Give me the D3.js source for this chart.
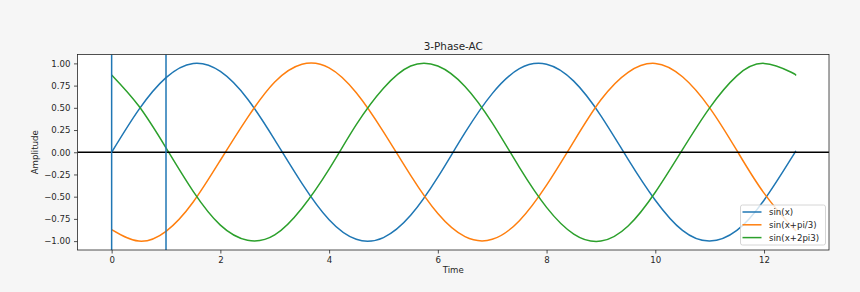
<!DOCTYPE html>
<html>
<head>
<meta charset="utf-8">
<script src="https://cdn.jsdelivr.net/npm/d3@7"></script>
<style>
    body { margin: 0; background: #f6f6f6; }
    #chart { width: 860px; height: 292px; }
    text { font-family: "DejaVu Sans", sans-serif; fill: #262626; }
</style>
</head>
<body>
<div id="chart"></div>
<script>
// Values
var timePoints = [0, 0.5, 1, 1.5, 2, 2.5, 3, 3.5, 4, 4.5, 5, 5.5, 6, 6.5, 7, 7.5, 8, 8.5, 9, 9.5, 10, 10.5, 11, 11.5, 12, 12.5, 12.57];
var sinValues = [0.00, 0.48, 0.84, 1.00, 0.91, 0.60, 0.14, -0.35, -0.76, -0.98, -0.96, -0.71, -0.28, 0.22, 0.66, 0.94, 0.99, 0.80, 0.41, -0.08, -0.54, -0.88, -1.00, -0.88, -0.54, -0.07, 0.00];
var sinPi3Values = [-0.87, -1.00, -0.89, -0.56, -0.09, 0.39, 0.79, 0.99, 0.95, 0.67, 0.23, -0.26, -0.69, -0.95, -0.98, -0.77, -0.37, 0.12, 0.59, 0.90, 1.00, 0.85, 0.50, 0.02, -0.46, -0.83, -0.87];
var sin2Pi3Values = [0.87, 0.52, 0.05, -0.44, -0.82, -0.99, -0.93, -0.63, -0.19, 0.31, 0.72, 0.97, 0.97, 0.74, 0.33, -0.17, -0.62, -0.92, -1.00, -0.83, -0.45, 0.03, 0.50, 0.86, 1.00, 0.90, 0.87];
var seriesNames = ["sin(x)", "sin(x+pi/3)", "sin(x+2pi3)"];
var seriesColors = ["#1f77b4", "#ff7f0e", "#2ca02c"];
var markerTimes = [0, 1];
var xTicks = [0, 2, 4, 6, 8, 10, 12];
var yTicks = [-1, -0.75, -0.5, -0.25, 0, 0.25, 0.5, 0.75, 1];

var allSeries = [sinValues, sinPi3Values, sin2Pi3Values];

var width = 860;
var height = 292;
var margin = { top: 54.5, right: 31, bottom: 42, left: 77.5 };
var innerW = width - margin.left - margin.right;
var innerH = height - margin.top - margin.bottom;

var svg = d3.select("#chart").append("svg")
    .attr("width", width)
    .attr("height", height);

var g = svg.append("g")
    .attr("transform", "translate(" + margin.left + "," + margin.top + ")");

// Scales with matplotlib style 5% padding
var xScale = d3.scaleLinear()
    .domain([-0.628, 13.195])
    .range([0, innerW]);

var yScale = d3.scaleLinear()
    .domain([-1.1, 1.1])
    .range([innerH, 0]);

// Plot background
g.append("rect")
    .attr("width", innerW)
    .attr("height", innerH)
    .attr("fill", "white");

g.append("clipPath")
    .attr("id", "plotClip")
    .append("rect")
    .attr("width", innerW)
    .attr("height", innerH);

var plot = g.append("g").attr("clip-path", "url(#plotClip)");

var line = d3.line()
    .x(function (d) { return xScale(d[0]); })
    .y(function (d) { return yScale(d[1]); })
    .curve(d3.curveNatural);

allSeries.forEach(function (values, i) {
    var pts = timePoints.map(function (t, j) { return [t, values[j]]; });
    plot.append("path")
        .datum(pts)
        .attr("d", line)
        .attr("fill", "none")
        .attr("stroke", seriesColors[i])
        .attr("stroke-width", 1.5);
});

// Zero line
plot.append("line")
    .attr("x1", 0)
    .attr("x2", innerW)
    .attr("y1", yScale(0))
    .attr("y2", yScale(0))
    .attr("stroke", "black")
    .attr("stroke-width", 1.5);

// Vertical marker lines
plot.selectAll(".vline")
    .data(markerTimes)
    .enter().append("line")
    .attr("class", "vline")
    .attr("x1", d => xScale(d))
    .attr("x2", d => xScale(d))
    .attr("y1", 0)
    .attr("y2", innerH)
    .attr("stroke", seriesColors[0])
    .attr("stroke-width", 1.5);

// Axes
var xAxis = d3.axisBottom(xScale)
    .tickValues(xTicks)
    .tickFormat(d3.format("d"))
    .tickSizeInner(3.5)
    .tickSizeOuter(0)
    .tickPadding(3.5);

var yAxis = d3.axisLeft(yScale)
    .tickValues(yTicks)
    .tickFormat(function (d) { return d3.format(".2f")(d).replace("-", "\u2212"); })
    .tickSizeInner(3.5)
    .tickSizeOuter(0)
    .tickPadding(3.5);

var gx = g.append("g")
    .attr("transform", "translate(0," + innerH + ")")
    .call(xAxis);

var gy = g.append("g")
    .call(yAxis);

[gx, gy].forEach(function (ax) {
    ax.select(".domain").remove();
    ax.selectAll("line").attr("stroke", "#262626").attr("stroke-width", 0.8);
    ax.selectAll("text")
        .style("font-family", "DejaVu Sans")
        .style("font-size", "8.6px")
        .attr("fill", "#262626");
});

// Spines
g.append("rect")
    .attr("width", innerW)
    .attr("height", innerH)
    .attr("fill", "none")
    .attr("stroke", "#262626")
    .attr("stroke-width", 0.8);

// Title and axis labels
svg.append("text")
    .attr("x", margin.left + innerW / 2)
    .attr("y", 49.5)
    .attr("text-anchor", "middle")
    .style("font-size", "10.4px")
    .text("3-Phase-AC");

svg.append("text")
    .attr("x", margin.left + innerW / 2)
    .attr("y", 273)
    .attr("text-anchor", "middle")
    .style("font-size", "8.6px")
    .text("Time");

svg.append("text")
    .attr("transform", "translate(37.5," + (margin.top + innerH / 2) + ") rotate(-90)")
    .attr("text-anchor", "middle")
    .style("font-size", "8.6px")
    .text("Amplitude");

// Legend
var legend = svg.append("g")
    .attr("transform", "translate(740.5,205)");

legend.append("rect")
    .attr("width", 85)
    .attr("height", 40)
    .attr("rx", 2)
    .attr("fill", "white")
    .attr("fill-opacity", 0.8)
    .attr("stroke", "#cccccc")
    .attr("stroke-width", 0.8);

var keys = legend.selectAll(".key")
    .data(seriesNames)
    .enter().append("g")
    .attr("class", "key")
    .attr("transform", (d, i) => "translate(0," + (7 + i * 12.8) + ")");

keys.append("line")
    .attr("x1", 2)
    .attr("x2", 21)
    .attr("stroke", (d, i) => seriesColors[i])
    .attr("stroke-width", 1.5);

keys.append("text")
    .attr("x", 28.5)
    .attr("dy", "0.35em")
    .style("font-size", "8.6px")
    .text(d => d);
</script>
</body>
</html>
